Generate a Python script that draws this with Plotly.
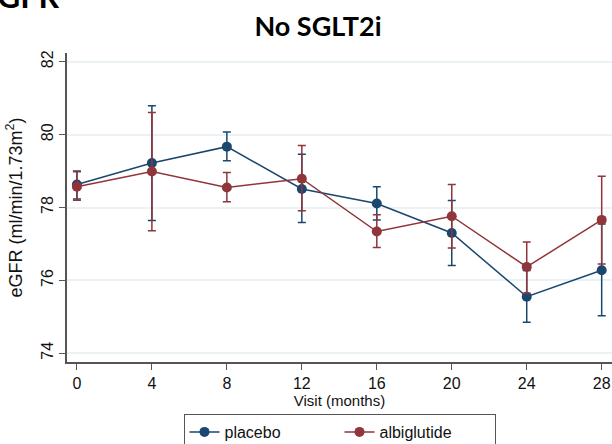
import plotly.graph_objects as go

months = [0, 4, 8, 12, 16, 20, 24, 28]
tick_vals_y = [74, 76, 78, 80, 82]

placebo_mean = [78.63, 79.22, 79.67, 78.51, 78.11, 77.30, 75.55, 76.28]
placebo_hi = [79.00, 80.79, 80.07, 79.46, 78.57, 78.19, 76.27, 77.55]
placebo_lo = [78.23, 77.64, 79.28, 77.59, 77.66, 76.41, 74.85, 75.03]

albi_mean = [78.57, 78.99, 78.55, 78.79, 77.34, 77.76, 76.37, 77.66]
albi_hi = [78.98, 80.61, 78.96, 79.70, 77.80, 78.63, 77.05, 78.86]
albi_lo = [78.20, 77.36, 78.16, 77.91, 76.90, 76.89, 75.65, 76.45]

NAVY = "#1a476f"
MAROON = "#90353b"

W, H = 612, 444
ML, MR, MT, MB = 67, 0, 53, 82
PW, PH = W - ML - MR, H - MT - MB

def trace(name, mean, hi, lo, color):
    return go.Scatter(
        x=months, y=mean, name=name, mode="lines+markers",
        line=dict(color=color, width=1.5),
        marker=dict(color=color, size=10),
        error_y=dict(type="data", symmetric=False,
                     array=[h - m for h, m in zip(hi, mean)],
                     arrayminus=[m - l for m, l in zip(mean, lo)],
                     color=color, thickness=1.5, width=4),
    )

fig = go.Figure()
fig.add_trace(trace("placebo", placebo_mean, placebo_hi, placebo_lo, NAVY))
fig.add_trace(trace("albiglutide", albi_mean, albi_hi, albi_lo, MAROON))

fig.update_layout(
    width=W, height=H,
    margin=dict(l=ML, r=MR, t=MT, b=MB, autoexpand=False),
    paper_bgcolor="white", plot_bgcolor="white",
    font=dict(family="Liberation Sans, Arial, sans-serif", size=15, color="#111"),
    title=dict(text="<b>No SGLT2i</b>", x=318 / W, xref="container", xanchor="center",
               y=1 - 27 / H, yref="container", yanchor="middle",
               font=dict(family="Lato, Open Sans, sans-serif", size=27, color="#000")),
    showlegend=True,
    legend=dict(orientation="h", x=(339.5 - ML) / PW, xanchor="center",
                y=1 - 414 / H, yref="container", yanchor="top",
                bordercolor="#555", borderwidth=1, font=dict(size=16),
                entrywidth=110, entrywidthmode="pixels", tracegroupgap=0),
    annotations=[dict(text="<b>eGFR</b>", xref="paper", yref="paper",
                      x=(-22 - ML) / PW, y=1 + (MT - 17) / PH, xanchor="left", yanchor="bottom",
                      showarrow=False, font=dict(family="Lato, sans-serif", size=32, color="#000"))],
)
fig.update_xaxes(
    range=[-0.53, 28.55], tickvals=months, ticks="outside", ticklen=6,
    tickcolor="#555", showline=True, linecolor="#555", linewidth=1.5,
    showgrid=False, zeroline=False, automargin=False,
    tickfont=dict(size=16),
    title=dict(text="Visit (months)", font=dict(size=15), standoff=2),
)
fig.update_yaxes(
    range=[73.76, 82.24], tickvals=tick_vals_y, ticks="outside", ticklen=6,
    tickcolor="#555", showline=True, linecolor="#555", linewidth=1.5,
    tickangle=-90, showgrid=True, gridcolor="#eaf2f3", gridwidth=1.5, zeroline=False,
    automargin=False, tickfont=dict(size=16),
    title=dict(text="eGFR (ml/min/1.73m<sup>2</sup>)", font=dict(size=18), standoff=12),
)

fig.write_html("out.html", config={"displayModeBar": False},
               post_script="document.body.style.margin='0';")
